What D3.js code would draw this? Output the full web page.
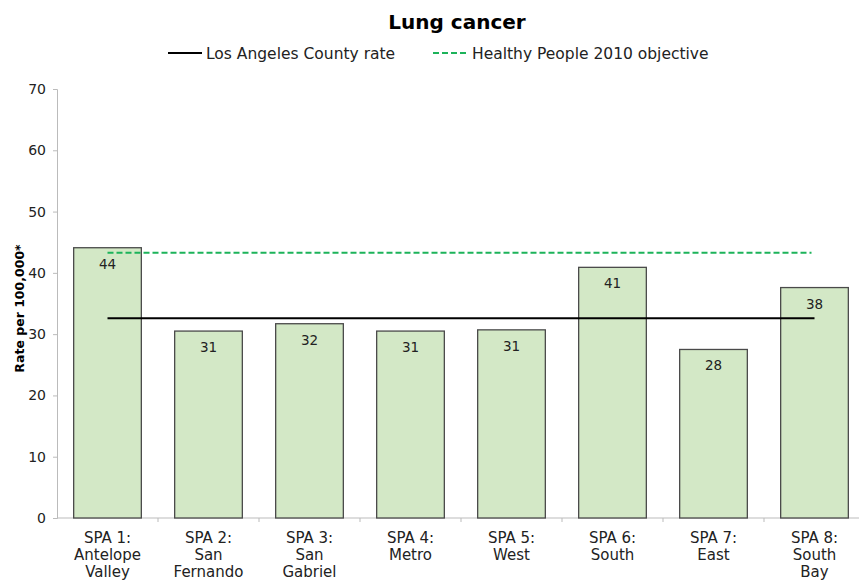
<!DOCTYPE html>
<html><head><meta charset="utf-8">
<script src="https://cdn.jsdelivr.net/npm/d3@7"></script>
<style>body{margin:0;background:#fff}svg{display:block}text{font-family:"DejaVu Sans",Verdana,sans-serif}</style>
</head><body><svg id="c" width="859" height="581"></svg>
<script>
const categories = [["SPA 1:","Antelope","Valley"],["SPA 2:","San","Fernando"],["SPA 3:","San","Gabriel"],["SPA 4:","Metro"],["SPA 5:","West"],["SPA 6:","South"],["SPA 7:","East"],["SPA 8:","South","Bay"]];
const values = [44.1, 30.5, 31.7, 30.5, 30.7, 40.9, 27.5, 37.6];
const valueLabels = ["44","31","32","31","31","41","28","38"];
const countyRate = 32.6;
const hpObjective = 43.3;
const yTicks = [0,10,20,30,40,50,60,70];

const svg = d3.select("#c");
const m = {l:57, t:89, r:865, b:518};
const x = d3.scaleBand().domain(d3.range(categories.length)).range([m.l, m.r]).paddingInner(0.33).paddingOuter(0.165);
const y = d3.scaleLinear().domain([0,70]).range([m.b, m.t]);

// y axis
const ya = svg.append("g").attr("transform",`translate(${m.l},0)`).call(d3.axisLeft(y).tickValues(yTicks).tickSize(4).tickPadding(7));
ya.select(".domain").attr("stroke","#bbb");
ya.selectAll(".tick line").attr("stroke","#bbb");
ya.selectAll(".tick text").attr("font-size","14px").attr("fill","#222").attr("font-family","DejaVu Sans");

// x axis line + boundary ticks
const xa = svg.append("g");
xa.append("line").attr("x1",m.l).attr("x2",m.r).attr("y1",y(0)).attr("y2",y(0)).attr("stroke","#bbb");
xa.selectAll(".bt").data(d3.range(1,categories.length)).join("line")
  .attr("x1",i=>x(i)-x.step()*x.paddingInner()/2).attr("x2",i=>x(i)-x.step()*x.paddingInner()/2)
  .attr("y1",y(0)).attr("y2",y(0)+4).attr("stroke","#bbb");

// bars
svg.selectAll(".bar").data(values).join("rect")
  .attr("x",(d,i)=>x(i)).attr("width",x.bandwidth())
  .attr("y",d=>y(d)).attr("height",d=>y(0)-y(d))
  .attr("fill","#d3e8c6").attr("stroke","#4a4a4a").attr("stroke-width",1.3);

// value labels
svg.selectAll(".vl").data(values).join("text")
  .attr("x",(d,i)=>x(i)+x.bandwidth()/2).attr("y",d=>y(d)+21)
  .attr("text-anchor","middle").attr("font-size","13.5px").attr("fill","#222")
  .text((d,i)=>valueLabels[i]);

// reference lines
const x1 = x(0)+x.bandwidth()/2, x2 = x(categories.length-1)+x.bandwidth()/2;
svg.append("line").attr("x1",x1).attr("x2",x2).attr("y1",y(countyRate)).attr("y2",y(countyRate)).attr("stroke","#000").attr("stroke-width",2);
svg.append("line").attr("x1",x1).attr("x2",x2-3).attr("y1",y(hpObjective)).attr("y2",y(hpObjective)).attr("stroke","#1cb35a").attr("stroke-width",2).attr("stroke-dasharray","6,3");

// category labels
svg.selectAll(".cl").data(categories).join("text")
  .attr("x",(d,i)=>x(i)+x.bandwidth()/2).attr("y",543)
  .attr("text-anchor","middle").attr("font-size","15px").attr("fill","#222")
  .each(function(d){ d3.select(this).selectAll("tspan").data(d).join("tspan").attr("x",d3.select(this).attr("x")).attr("dy",(t,j)=>j?17:0).text(t=>t); });

// y title
svg.append("text").attr("transform",`translate(24,${(m.t+m.b)/2 + 5}) rotate(-90)`).attr("text-anchor","middle")
  .attr("font-size","12.5px").attr("font-weight","bold").attr("fill","#000").text("Rate per 100,000*");

// title
svg.append("text").attr("x",457).attr("y",29).attr("text-anchor","middle").attr("font-size","20px").attr("font-weight","bold").attr("fill","#000").text("Lung cancer");

// legend
svg.append("line").attr("x1",168).attr("x2",202).attr("y1",53).attr("y2",53).attr("stroke","#000").attr("stroke-width",2);
svg.append("text").attr("x",206).attr("y",58.5).attr("font-size","15.5px").attr("fill","#222").text("Los Angeles County rate");
svg.append("line").attr("x1",433).attr("x2",469).attr("y1",53).attr("y2",53).attr("stroke","#1cb35a").attr("stroke-width",2).attr("stroke-dasharray","6,3");
svg.append("text").attr("x",472).attr("y",58.5).attr("font-size","15.5px").attr("fill","#222").text("Healthy People 2010 objective");
</script></body></html>
